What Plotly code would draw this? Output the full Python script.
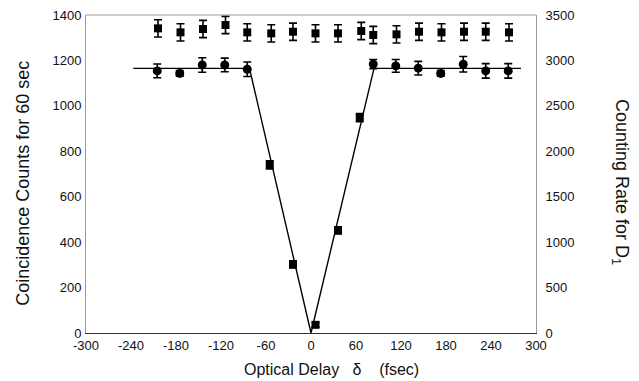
import plotly.graph_objects as go

# Coincidence counts (left axis)
plateau_delay = [-205, -175, -145, -115, -85, 83, 113, 143, 173, 203, 233, 263]
plateau_counts = [1154, 1143, 1180, 1180, 1161, 1184, 1176, 1166, 1143, 1183, 1154, 1154]
plateau_err = [30, 12, 32, 30, 32, 20, 28, 30, 12, 34, 32, 32]

dip_delay = [-55, -24, 6, 36, 65]
dip_counts = [740, 302, 36, 452, 948]
dip_err = [18, 16, 10, 16, 18]

# Theory curve
theory_delay = [-237, -82, 0, 84, 280]
theory_counts = [1165, 1165, 0, 1165, 1165]

# Counting rate for D1 (right axis)
rate_delay = [-204, -174, -144, -114, -85, -53, -24, 6, 36, 67, 83, 114, 144, 174, 204, 233, 264]
rate_values = [3353, 3309, 3346, 3390, 3309, 3298, 3316, 3298, 3298, 3324, 3280, 3287, 3316, 3309, 3316, 3316, 3309]
rate_err = [95] * len(rate_delay)

x_ticks = [-300, -240, -180, -120, -60, 0, 60, 120, 180, 240, 300]
y_ticks = [0, 200, 400, 600, 800, 1000, 1200, 1400]
y2_ticks = [0, 500, 1000, 1500, 2000, 2500, 3000, 3500]

FONT = "Liberation Sans, Arial, Helvetica, sans-serif"

fig = go.Figure()

fig.add_trace(go.Scatter(
    x=theory_delay, y=theory_counts, mode="lines",
    line=dict(color="black", width=1.4), hoverinfo="skip", showlegend=False))

fig.add_trace(go.Scatter(
    x=plateau_delay, y=plateau_counts, mode="markers",
    marker=dict(symbol="circle", size=9, color="black"),
    error_y=dict(type="data", array=plateau_err, color="black", thickness=1.6, width=4),
    showlegend=False))

fig.add_trace(go.Scatter(
    x=dip_delay, y=dip_counts, mode="markers",
    marker=dict(symbol="square", size=8, color="black"),
    error_y=dict(type="data", array=dip_err, color="black", thickness=1.6, width=4),
    showlegend=False))

fig.add_trace(go.Scatter(
    x=rate_delay, y=rate_values, mode="markers", yaxis="y2",
    marker=dict(symbol="square", size=8, color="black"),
    error_y=dict(type="data", array=rate_err, color="black", thickness=1.6, width=4),
    showlegend=False))

fig.update_layout(
    width=639, height=381,
    margin=dict(l=86, r=103, t=15, b=48),
    paper_bgcolor="white", plot_bgcolor="white",
    font=dict(family=FONT, size=13, color="#111"),
    xaxis=dict(range=[-300, 300], tickvals=x_ticks, ticktext=[str(v) for v in x_ticks],
               showgrid=False, zeroline=False, showline=True, linecolor="#333", linewidth=1,
               ticks="", ticklen=0, tickfont=dict(size=13), ticklabelstandoff=0,
               automargin=False),
    yaxis=dict(range=[0, 1400], tickvals=y_ticks, showgrid=False, zeroline=False,
               showline=True, linecolor="#999", linewidth=1, ticks="", tickfont=dict(size=13),
               ticklabelstandoff=1, automargin=False),
    yaxis2=dict(range=[0, 3500], tickvals=y2_ticks, overlaying="y", side="right",
                showgrid=False, zeroline=False, showline=True, linecolor="#999", linewidth=1,
                ticks="", tickfont=dict(size=13), ticklabelstandoff=6, automargin=False),
    shapes=[dict(type="line", xref="paper", yref="paper", x0=0, x1=1, y0=1, y1=1,
                 line=dict(color="#999", width=1))],
    annotations=[
        dict(text="Optical Delay&nbsp;&nbsp;&nbsp;δ&nbsp;&nbsp;&nbsp;&nbsp;(fsec)", xref="paper", yref="paper",
             x=(242 - 86) / 450, y=0, yshift=-36, showarrow=False,
             font=dict(size=16, family=FONT), xanchor="left", yanchor="middle"),
        dict(text="Coincidence Counts for 60 sec", xref="paper", yref="paper", x=0, y=0.469,
             xshift=-63, textangle=-90, showarrow=False, font=dict(size=18, family=FONT),
             xanchor="center", yanchor="middle"),
        dict(text="Counting Rate for D<sub>1</sub>", xref="paper", yref="paper", x=1, y=0.475,
             xshift=84, textangle=90, showarrow=False, font=dict(size=18, family=FONT),
             xanchor="center", yanchor="middle"),
    ],
)

fig.write_html("out.html", config={"displayModeBar": False},
               post_script="document.body.style.margin='0';document.body.style.padding='0';")
